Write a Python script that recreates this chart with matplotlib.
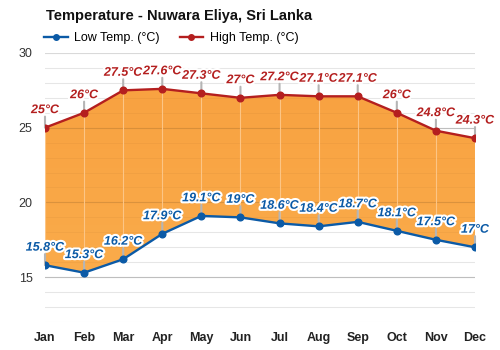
import matplotlib
matplotlib.use("Agg")
import matplotlib.pyplot as plt
import matplotlib.patheffects as pe
import numpy as np
from matplotlib.lines import Line2D
from matplotlib.colors import LinearSegmentedColormap

plt.rcParams["font.family"] = ["Liberation Sans", "DejaVu Sans"]

# Data
months = ["Jan", "Feb", "Mar", "Apr", "May", "Jun", "Jul", "Aug", "Sep", "Oct", "Nov", "Dec"]
high_temp = [25, 26, 27.5, 27.6, 27.3, 27, 27.2, 27.1, 27.1, 26, 24.8, 24.3]
low_temp = [15.8, 15.3, 16.2, 17.9, 19.1, 19, 18.6, 18.4, 18.7, 18.1, 17.5, 17]
y_ticks = [15, 20, 25, 30]

high_color = "#B41F1F"
low_color = "#0B5AA6"

fig = plt.figure(figsize=(5, 3.5), dpi=100)
ax = fig.add_axes([0.09, 0.08, 0.86, 0.7686])

x = list(range(len(months)))

# grid under the fill
for v in range(12, 31):
    ax.axhline(v, color="#d9d9d9" if v % 5 == 0 else "#eeeeee", lw=0.8, zorder=0)

# orange band with a soft vertical gradient
band = ax.fill_between(x, low_temp, high_temp, color="none", lw=0, zorder=1)
cmap = LinearSegmentedColormap.from_list("band", ["#FBAE4D", "#F8A03F"])
grad = np.linspace(0, 1, 256).reshape(-1, 1)
img = ax.imshow(grad, cmap=cmap, aspect="auto", extent=[0, 11, 12, 30],
                origin="lower", zorder=1)
img.set_clip_path(band.get_paths()[0], transform=ax.transData)

# faint grid over the band
for v in range(13, 30):
    ax.axhline(v, color="#000000", alpha=0.12 if v % 5 == 0 else 0.03, lw=0.8, zorder=1.2)
for i in x:
    ax.plot([i, i], [low_temp[i], high_temp[i]], color="#fcc585", lw=0.8, zorder=1.5)

ax.plot(x, high_temp, color=high_color, lw=1.7, marker="o", ms=4.8, zorder=3)
ax.plot(x, low_temp, color=low_color, lw=1.7, marker="o", ms=4.8, zorder=3)

stroke = [pe.withStroke(linewidth=3, foreground="white")]


def label(vals, color):
    for i, v in enumerate(vals):
        ax.annotate("", xy=(i, v), xytext=(0, 8), textcoords="offset points",
                    arrowprops=dict(arrowstyle="-", color="#b5b5b5", lw=1.5,
                                    shrinkA=0, shrinkB=0), zorder=2)
        ax.annotate(f"{v:g}°C", xy=(i, v), xytext=(0, 10.5), textcoords="offset points",
                    ha="center", va="baseline", color=color, fontsize=9,
                    fontweight="bold", fontstyle="italic", path_effects=stroke,
                    zorder=4, annotation_clip=False)


label(high_temp, high_color)
label(low_temp, low_color)

ax.set_xlim(0, 11)
ax.set_ylim(12, 30)
ax.set_yticks(y_ticks)
ax.set_xticks(x)
ax.set_xticklabels(months, fontweight="bold")
ax.tick_params(axis="x", length=0, labelsize=9, pad=7, colors="#222222")
ax.tick_params(axis="y", length=0, labelsize=9, pad=9, colors="#333333")
for s in ax.spines.values():
    s.set_visible(False)

fig.text(0.092, 0.954, "Temperature - Nuwara Eliya, Sri Lanka", fontsize=10.5,
         fontweight="bold", color="#111111", va="center")

handles = [
    Line2D([], [], color=low_color, lw=1.7, marker="o", ms=4),
    Line2D([], [], color=high_color, lw=1.7, marker="o", ms=4),
]
fig.legend(handles, ["Low Temp. (°C)", "High Temp. (°C)"], loc="center left",
           bbox_to_anchor=(0.088, 0.891), ncol=2, frameon=False, fontsize=9,
           handlelength=1.9, handletextpad=0.5, columnspacing=1.6,
           borderaxespad=0, borderpad=0)

fig.savefig("out.png", dpi=100)
